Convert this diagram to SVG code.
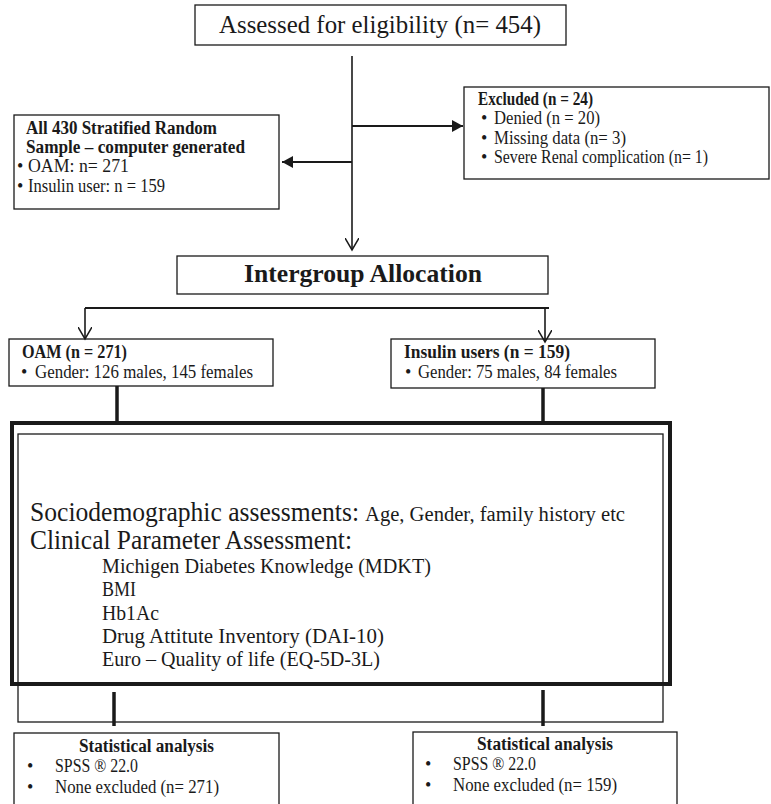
<svg xmlns="http://www.w3.org/2000/svg" width="771" height="804" viewBox="0 0 771 804">
<defs>
<style>
.box{fill:#fff;stroke:#1a1a1a;stroke-width:1.3}
.frame{fill:none;stroke:#1a1a1a;stroke-width:1.3}
.thick{fill:none;stroke:#1a1a1a;stroke-width:4}
.t{font-family:"Liberation Serif","DejaVu Serif",serif;fill:#1a1a1a}
.b{font-weight:bold}
.s16{font-size:18px}
.ln{stroke:#1a1a1a;stroke-width:1.6;fill:none}
.ln2{stroke:#1a1a1a;stroke-width:2.2;fill:none}
.tk{stroke:#1a1a1a;stroke-width:3.5;fill:none}
</style>
<marker id="open" viewBox="0 0 14 14" refX="12" refY="7" markerWidth="14" markerHeight="14" markerUnits="userSpaceOnUse" orient="auto">
<path d="M0,0 L12,7 L0,14" fill="none" stroke="#1a1a1a" stroke-width="1.5"/>
</marker>
<marker id="solid" viewBox="0 0 12 12" refX="11" refY="6" markerWidth="12" markerHeight="12" markerUnits="userSpaceOnUse" orient="auto">
<path d="M0,0 L11,6 L0,12 z" fill="#1a1a1a"/>
</marker>
</defs>
<rect width="771" height="804" fill="#fff"/>

<g id="assessed">
<rect class="box" x="195" y="5" width="371" height="40"/>
<text class="t" x="219" y="33" font-size="25" textLength="322" lengthAdjust="spacingAndGlyphs">Assessed for eligibility (n= 454)</text>
</g>

<g id="excluded">
<rect class="box" x="464" y="87" width="305" height="92"/>
<text class="t b s16" x="478" y="105" textLength="115" lengthAdjust="spacingAndGlyphs">Excluded (n = 24)</text>
<text class="t s16" x="481" y="124">•</text>
<text class="t s16" x="494" y="124" textLength="106" lengthAdjust="spacingAndGlyphs">Denied (n = 20)</text>
<text class="t s16" x="481" y="144">•</text>
<text class="t s16" x="494" y="144" textLength="132" lengthAdjust="spacingAndGlyphs">Missing data (n= 3)</text>
<text class="t s16" x="481" y="163">•</text>
<text class="t s16" x="494" y="163" textLength="214" lengthAdjust="spacingAndGlyphs">Severe Renal complication (n= 1)</text>
</g>

<g id="stratified">
<rect class="box" x="14" y="115" width="265" height="94"/>
<text class="t b s16" x="26" y="134" textLength="191" lengthAdjust="spacingAndGlyphs">All 430 Stratified Random</text>
<text class="t b s16" x="26" y="153" textLength="219" lengthAdjust="spacingAndGlyphs">Sample – computer generated</text>
<text class="t s16" x="17" y="172">•</text>
<text class="t s16" x="28" y="172" textLength="101" lengthAdjust="spacingAndGlyphs">OAM: n= 271</text>
<text class="t s16" x="17" y="192">•</text>
<text class="t s16" x="28" y="192" textLength="137" lengthAdjust="spacingAndGlyphs">Insulin user: n = 159</text>
</g>

<g id="allocation">
<rect class="box" x="177" y="256" width="371" height="38"/>
<text class="t b" x="244" y="282" font-size="25" textLength="238" lengthAdjust="spacingAndGlyphs">Intergroup Allocation</text>
</g>

<g id="oam">
<rect class="box" x="9" y="339" width="264" height="47"/>
<text class="t b s16" x="22" y="358" textLength="105" lengthAdjust="spacingAndGlyphs">OAM (n = 271)</text>
<text class="t s16" x="21" y="378">•</text>
<text class="t s16" x="35" y="378" textLength="218" lengthAdjust="spacingAndGlyphs">Gender: 126 males, 145 females</text>
</g>

<g id="insulin">
<rect class="box" x="391" y="339" width="264" height="49"/>
<text class="t b s16" x="404" y="358" textLength="166" lengthAdjust="spacingAndGlyphs">Insulin users (n = 159)</text>
<text class="t s16" x="405" y="378">•</text>
<text class="t s16" x="418" y="378" textLength="199" lengthAdjust="spacingAndGlyphs">Gender: 75 males, 84 females</text>
</g>

<g id="assessments">
<rect class="frame" x="18" y="434" width="645" height="288"/>
<rect class="thick" x="12" y="423" width="658" height="261"/>
<text class="t" x="30" y="521" font-size="27" textLength="329" lengthAdjust="spacingAndGlyphs">Sociodemographic assessments:</text>
<text class="t" x="365" y="521" font-size="20" textLength="260" lengthAdjust="spacingAndGlyphs">Age, Gender, family history etc</text>
<text class="t" x="30" y="549" font-size="27" textLength="322" lengthAdjust="spacingAndGlyphs">Clinical Parameter Assessment:</text>
<text class="t" x="102" y="573" font-size="20" textLength="329" lengthAdjust="spacingAndGlyphs">Michigen Diabetes Knowledge (MDKT)</text>
<text class="t" x="102" y="596" font-size="20" textLength="34" lengthAdjust="spacingAndGlyphs">BMI</text>
<text class="t" x="102" y="620" font-size="20" textLength="57" lengthAdjust="spacingAndGlyphs">Hb1Ac</text>
<text class="t" x="102" y="643" font-size="20" textLength="282" lengthAdjust="spacingAndGlyphs">Drug Attitute Inventory (DAI-10)</text>
<text class="t" x="102" y="666" font-size="20" textLength="278" lengthAdjust="spacingAndGlyphs">Euro – Quality of life (EQ-5D-3L)</text>
</g>

<g id="stat-left">
<rect class="box" x="14" y="733" width="265" height="80"/>
<text class="t b s16" x="79" y="752" textLength="135" lengthAdjust="spacingAndGlyphs">Statistical analysis</text>
<text class="t s16" x="27" y="772">•</text>
<text class="t s16" x="55" y="772" textLength="83" lengthAdjust="spacingAndGlyphs">SPSS ® 22.0</text>
<text class="t s16" x="27" y="793">•</text>
<text class="t s16" x="55" y="793" textLength="164" lengthAdjust="spacingAndGlyphs">None excluded (n= 271)</text>
</g>

<g id="stat-right">
<rect class="box" x="413" y="732" width="264" height="80"/>
<text class="t b s16" x="477" y="750" textLength="136" lengthAdjust="spacingAndGlyphs">Statistical analysis</text>
<text class="t s16" x="425" y="770">•</text>
<text class="t s16" x="453" y="770" textLength="83" lengthAdjust="spacingAndGlyphs">SPSS ® 22.0</text>
<text class="t s16" x="425" y="791">•</text>
<text class="t s16" x="453" y="791" textLength="164" lengthAdjust="spacingAndGlyphs">None excluded (n= 159)</text>
</g>

<g id="connectors">
<line class="ln" x1="352" y1="56" x2="352" y2="250" marker-end="url(#open)"/>
<line class="ln2" x1="352" y1="126" x2="463" y2="126" marker-end="url(#solid)"/>
<line class="ln2" x1="352" y1="162" x2="282" y2="162" marker-end="url(#solid)"/>
<line class="ln2" x1="85" y1="308" x2="549" y2="308"/>
<line class="ln" x1="85" y1="308" x2="85" y2="339" marker-end="url(#open)"/>
<line class="ln" x1="545" y1="308" x2="545" y2="342" marker-end="url(#open)"/>
<line class="tk" x1="117" y1="386" x2="117" y2="423"/>
<line class="tk" x1="543" y1="388" x2="543" y2="423"/>
<line class="tk" x1="114" y1="692" x2="114" y2="726"/>
<line class="tk" x1="543" y1="690" x2="543" y2="726"/>
</g>
</svg>
